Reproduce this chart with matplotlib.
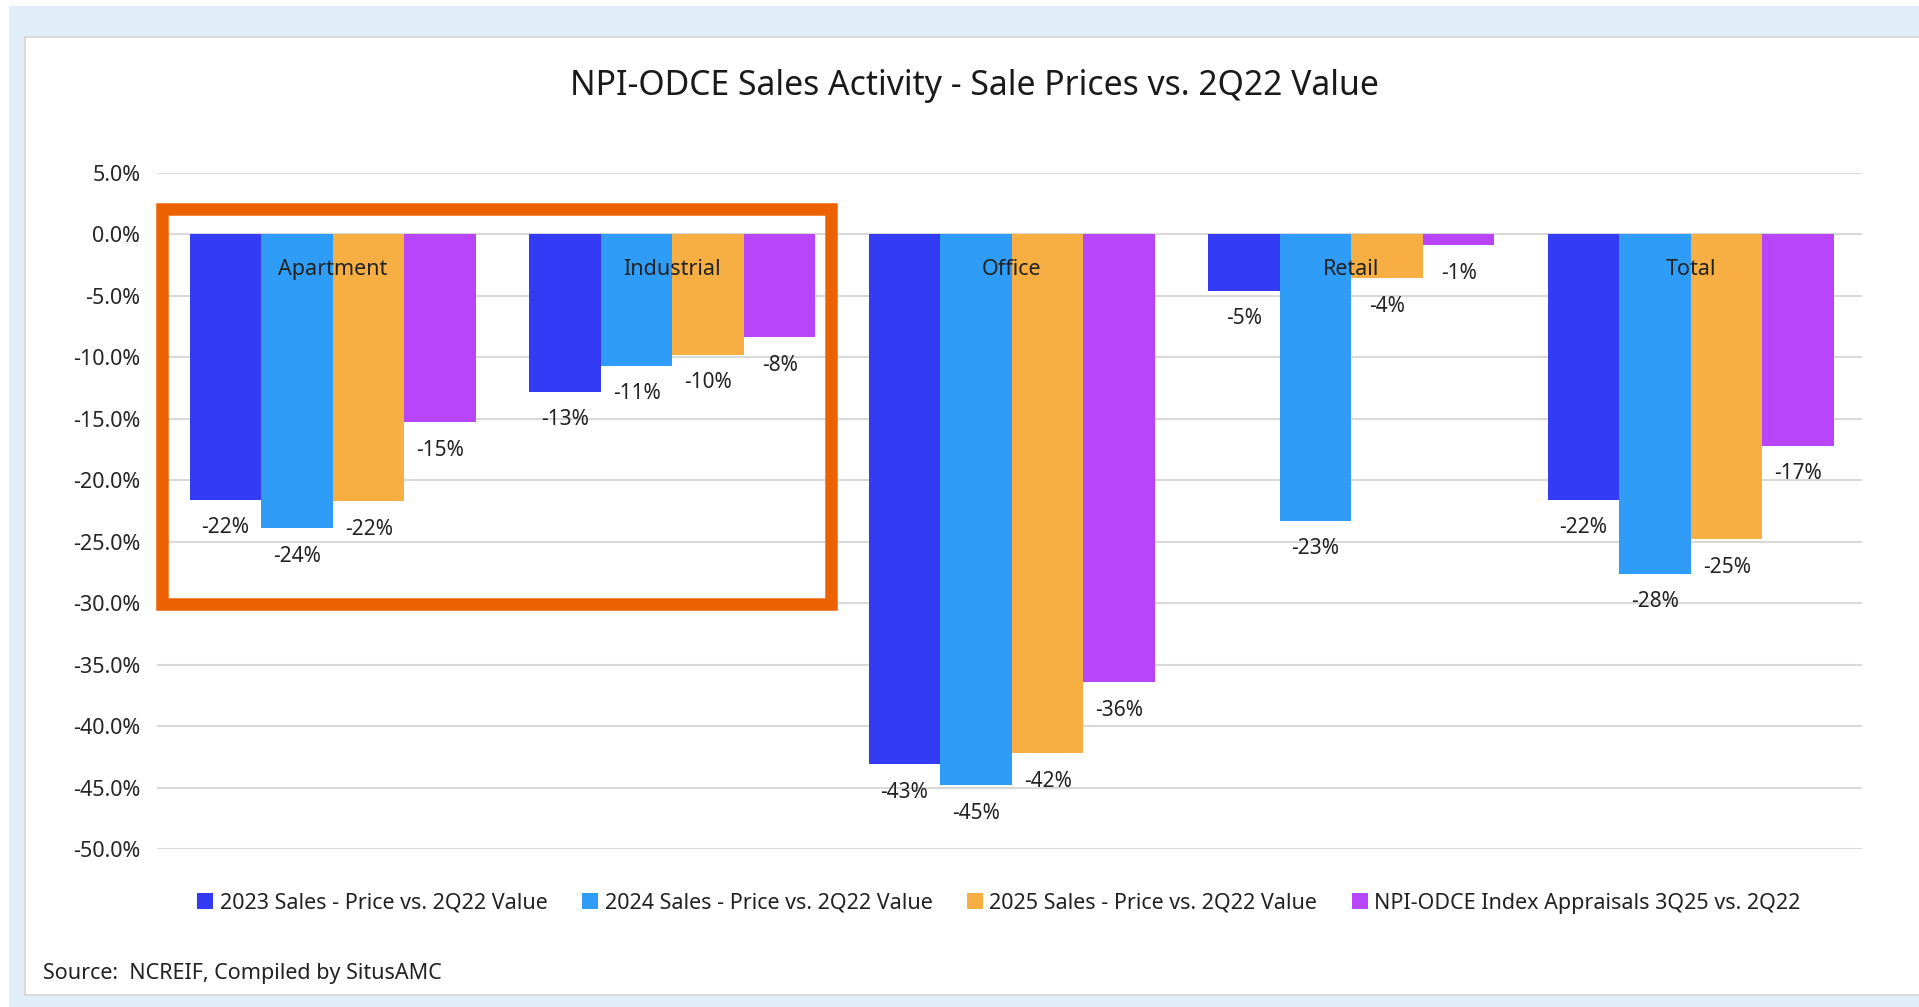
import matplotlib
matplotlib.use("Agg")
import matplotlib.pyplot as plt
from matplotlib.patches import Rectangle
import numpy as np

plt.rcParams['font.family'] = ['Noto Sans', 'DejaVu Sans']
plt.rcParams['axes.unicode_minus'] = False

categories = ["Apartment", "Industrial", "Office", "Retail", "Total"]
series_names = [
    "2023 Sales - Price vs. 2Q22 Value",
    "2024 Sales - Price vs. 2Q22 Value",
    "2025 Sales - Price vs. 2Q22 Value",
    "NPI-ODCE Index Appraisals 3Q25 vs. 2Q22",
]
sales_2023 = [-21.6, -12.8, -43.1, -4.6, -21.6]
sales_2024 = [-23.9, -10.7, -44.8, -23.3, -27.6]
sales_2025 = [-21.7, -9.8, -42.2, -3.6, -24.8]
appraisals = [-15.3, -8.4, -36.4, -0.9, -17.2]
series_values = [sales_2023, sales_2024, sales_2025, appraisals]
colors = ["#333CF4", "#2F9DF8", "#F7AE42", "#B945FB"]
yticks = [5, 0, -5, -10, -15, -20, -25, -30, -35, -40, -45, -50]

W, H = 1919, 1007
fig = plt.figure(figsize=(W / 100, H / 100), dpi=100)
fig.patch.set_facecolor("#E1EEF9")

# white strips at top/left edges, then white panel
fig.patches.append(Rectangle((0, 1 - 6 / H), 1, 6 / H, transform=fig.transFigure,
                             facecolor="white", edgecolor="none", zorder=-3))
fig.patches.append(Rectangle((0, 0), 9 / W, 1, transform=fig.transFigure,
                             facecolor="white", edgecolor="none", zorder=-3))
fig.patches.append(Rectangle((24.5 / W, 12 / H), 1.01 - 24.5 / W, (995 - 37) / H,
                             transform=fig.transFigure, facecolor="white",
                             edgecolor="#D4D4D4", linewidth=1.2, zorder=-2))

ax = fig.add_axes([157 / W, 157.6 / H, (1862 - 157) / W, (849.4 - 172.6) / H])
ax.set_facecolor("none")

n = len(series_values)
group_w = 0.843
bw = group_w / n
x = np.arange(len(categories))
for i, (vals, col, name) in enumerate(zip(series_values, colors, series_names)):
    pos = x - group_w / 2 + bw * (i + 0.5)
    bars = ax.bar(pos, vals, width=bw, color=col, label=name, zorder=2)
    for b, v in zip(bars, vals):
        ax.annotate(f"{round(v):.0f}%", (b.get_x() + b.get_width() / 2, v),
                    xytext=(0, -28), textcoords="offset pixels",
                    ha="center", va="center", fontsize=15, color="#222222")

for xi, c in zip(x, categories):
    ax.text(xi, -2.85, c, ha="center", va="center", fontsize=15.5, color="#222222", zorder=3)

ax.set_xlim(-0.518, 4.504)
ax.set_ylim(-50, 5)
ax.set_yticks(yticks)
ax.set_yticklabels([f"{t:.1f}%" for t in yticks], fontsize=15.5, color="#262626")
ax.set_xticks([])
ax.tick_params(axis="y", length=0, pad=12)
for s in ax.spines.values():
    s.set_visible(False)
ax.yaxis.grid(True, color="#D9D9D9", linewidth=1.5, zorder=0)
ax.set_axisbelow(True)

# highlight box around Apartment & Industrial
ax.add_patch(Rectangle((-0.504, -30.02), 1.466 + 0.504, 2.06 + 30.02,
                       fill=False, edgecolor="#EC6100", linewidth=9,
                       clip_on=False, zorder=4))

fig.text(974 / W, 1 - 86 / H, "NPI-ODCE Sales Activity - Sale Prices vs. 2Q22 Value",
         ha="center", va="center", fontsize=24.3, color="#1a1a1a")

handles, labels = ax.get_legend_handles_labels()
fig.legend(handles, labels, loc="center", bbox_to_anchor=(999 / W, 1 - 903 / H),
           ncol=4, frameon=False, fontsize=15.5, handlelength=0.75, handleheight=0.75,
           handletextpad=0.3, columnspacing=1.6, labelcolor="#222222")

fig.text(43 / W, 1 - 974 / H, "Source:  NCREIF, Compiled by SitusAMC",
         ha="left", va="center", fontsize=15.5, color="#222222")

fig.savefig("out.png", dpi=100, facecolor=fig.get_facecolor())
